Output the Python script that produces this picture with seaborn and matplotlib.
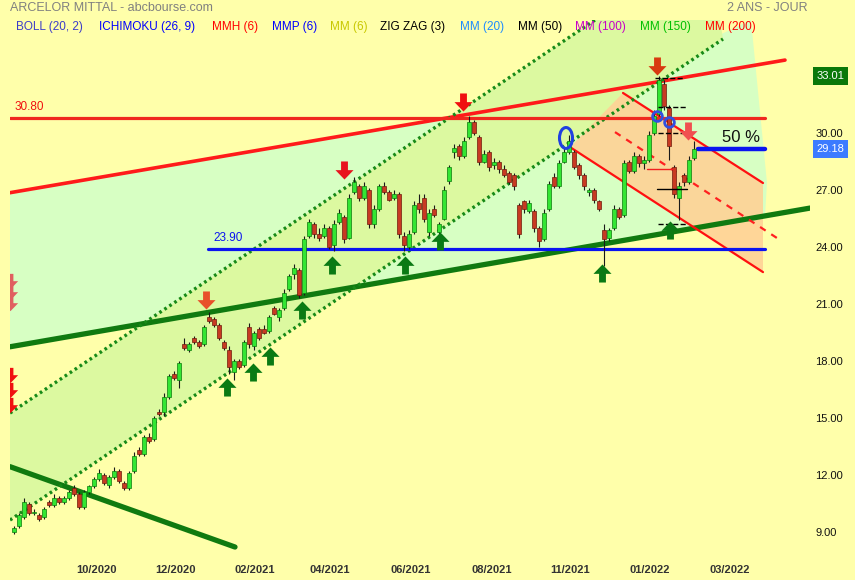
import matplotlib
matplotlib.use("Agg")
import numpy as np
import matplotlib.pyplot as plt
import matplotlib.transforms as mtransforms
from matplotlib.path import Path
from matplotlib.patches import Polygon, Ellipse
import seaborn as sns

# daily candles (one every ~2 sessions)
opens = [9.0, 9.3, 9.8, 10.5, 10.0, 9.9, 9.8, 10.6, 10.4, 10.8, 10.6, 10.8, 11.3, 11.0, 10.3, 11.1,
         11.4, 11.8, 12.0, 11.5, 11.9, 12.2, 11.6, 11.3, 12.2, 13.3, 13.1, 14.0, 13.9, 15.3, 15.3, 16.1,
         17.3, 17.0, 18.9, 18.6, 19.2, 19.0, 18.9, 20.3, 20.2, 19.9, 19.0, 18.6, 17.4, 18.0, 17.8, 19.8,
         18.8, 19.7, 19.7, 19.6, 20.8, 20.3, 20.8, 21.8, 22.6, 22.8, 21.6, 24.6, 25.2, 24.7, 24.6, 25.0,
         24.1, 25.3, 25.6, 24.5, 26.9, 27.2, 26.6, 27.0, 25.2, 26.0, 27.2, 26.9, 26.6, 26.8, 24.6, 24.0,
         24.8, 26.3, 26.6, 24.8, 26.0, 24.8, 25.5, 27.5, 29.0, 29.3, 28.8, 29.8, 30.6, 29.8, 28.5, 29.0,
         28.3, 28.5, 28.1, 27.9, 27.8, 26.2, 26.4, 25.9, 25.9, 25.0, 24.4, 26.0, 27.7, 27.2, 28.5, 29.0,
         29.0, 28.3, 27.8, 26.9, 27.0, 26.4, 24.9, 24.5, 25.0, 26.0, 25.7, 28.5, 28.0, 28.8, 28.4, 28.6,
         30.0, 31.0, 32.6, 31.3, 28.2, 26.6, 27.8, 27.4, 28.7]
highs = [9.3, 10.0, 10.8, 10.6, 10.2, 10.0, 10.3, 10.7, 11.0, 10.9, 10.9, 11.2, 11.5, 11.1, 11.2, 11.5,
         11.9, 12.3, 12.1, 12.0, 12.4, 12.3, 11.7, 12.2, 13.2, 13.5, 14.1, 14.2, 15.1, 15.5, 16.3, 17.3,
         17.5, 18.0, 19.2, 19.0, 19.3, 19.1, 19.9, 20.6, 20.3, 20.0, 19.1, 18.8, 18.1, 18.1, 19.1, 20.0,
         19.6, 19.8, 19.9, 20.4, 20.9, 20.8, 21.8, 22.6, 23.1, 22.9, 24.6, 25.5, 25.3, 25.0, 25.2, 25.1,
         25.4, 26.0, 25.7, 26.8, 27.7, 27.3, 27.4, 27.1, 26.2, 27.3, 27.4, 27.0, 27.0, 26.9, 24.8, 24.9,
         26.4, 26.8, 26.8, 26.0, 26.2, 25.3, 27.2, 28.3, 29.4, 29.4, 29.8, 30.9, 30.7, 29.9, 29.1, 29.1,
         28.7, 28.6, 28.3, 28.0, 27.9, 26.3, 26.5, 26.5, 26.0, 25.1, 26.0, 27.5, 27.9, 28.6, 29.2, 29.9,
         29.1, 28.4, 27.9, 27.1, 27.1, 26.5, 25.2, 25.0, 26.2, 26.1, 28.6, 28.6, 29.0, 28.9, 28.8, 30.1,
         31.2, 33.01, 32.8, 31.5, 28.3, 27.4, 27.9, 28.8, 29.6]
lows = [8.9, 9.2, 9.7, 9.9, 9.9, 9.6, 9.7, 10.3, 10.3, 10.5, 10.5, 10.7, 10.9, 10.2, 10.2, 11.0,
        11.3, 11.7, 11.5, 11.3, 11.8, 11.6, 11.2, 11.2, 12.1, 13.0, 13.0, 13.7, 13.8, 15.1, 15.1, 16.0,
        17.0, 16.6, 18.6, 18.5, 18.9, 18.7, 18.8, 20.0, 19.8, 19.1, 18.6, 17.3, 17.0, 17.6, 17.7, 18.7,
        18.6, 19.1, 19.4, 19.5, 20.4, 20.1, 20.7, 21.7, 22.3, 21.3, 21.5, 24.5, 24.5, 24.3, 24.5, 23.9,
        23.8, 25.2, 24.2, 24.4, 26.8, 26.4, 26.5, 25.0, 25.0, 25.9, 26.8, 26.4, 26.5, 24.5, 23.8, 23.9,
        24.7, 25.8, 25.3, 24.6, 25.6, 24.6, 25.4, 27.3, 28.7, 28.6, 28.7, 29.7, 29.9, 28.3, 28.4, 28.0,
        28.1, 27.9, 27.7, 27.3, 27.0, 24.5, 25.8, 25.8, 24.8, 24.0, 24.3, 25.9, 27.1, 27.1, 28.4, 28.9,
        28.1, 27.6, 27.0, 26.7, 26.3, 25.9, 23.0, 24.3, 24.9, 25.5, 25.6, 27.9, 27.9, 28.2, 28.1, 28.5,
        29.9, 30.9, 31.2, 28.6, 26.6, 25.4, 27.2, 27.3, 28.6]
closes = [9.2, 9.9, 10.6, 10.0, 10.05, 9.7, 10.2, 10.4, 10.8, 10.6, 10.8, 11.1, 11.0, 10.3, 11.1, 11.4,
          11.8, 12.1, 11.6, 11.9, 12.2, 11.7, 11.3, 12.1, 13.0, 13.1, 14.0, 13.8, 15.0, 15.2, 16.1, 17.2,
          17.1, 17.9, 18.7, 18.9, 19.0, 18.8, 19.8, 20.1, 19.9, 19.2, 18.7, 17.7, 18.0, 17.7, 19.0, 18.9,
          19.5, 19.2, 19.5, 20.3, 20.5, 20.7, 21.6, 22.5, 22.9, 21.5, 24.4, 25.3, 24.7, 24.5, 25.0, 24.0,
          25.2, 25.8, 24.4, 26.6, 27.4, 26.6, 27.2, 25.2, 26.0, 27.2, 26.9, 26.5, 26.8, 24.7, 24.1, 24.7,
          26.2, 26.0, 25.5, 25.8, 25.7, 25.2, 27.0, 28.2, 29.2, 28.8, 29.6, 30.6, 30.0, 28.5, 28.9, 28.2,
          28.5, 28.1, 27.8, 27.4, 27.2, 24.7, 26.0, 26.3, 25.0, 24.3, 25.8, 27.3, 27.2, 28.4, 29.0, 29.6,
          28.2, 27.8, 27.2, 27.0, 26.5, 26.0, 24.4, 24.9, 26.0, 25.6, 28.4, 28.0, 28.8, 28.4, 28.6, 29.9,
          30.9, 32.8, 31.4, 29.3, 26.8, 27.2, 27.4, 28.6, 29.18]

date_labels = ["10/2020", "12/2020", "02/2021", "04/2021", "06/2021",
               "08/2021", "11/2021", "01/2022", "03/2022"]
date_pos = [16.4, 32.2, 48.2, 63.2, 79.4, 95.6, 111.2, 127.2, 143.2]
price_ticks = [9, 12, 15, 18, 21, 24, 27, 30]

last_price = 29.18
top_price = 33.01
resistance = 30.80
support = 23.90

# drawn trend lines (x0, y0, x1, y1)
red_trend = (-0.8, 26.86, 154.2, 33.84)
green_trend = (-0.8, 18.75, 159.2, 26.05)
green_down = (-0.8, 12.44, 44.2, 8.21)
dotted_up = (-0.8, 15.26, 116.2, 35.95)
dotted_low = (-0.8, 9.63, 141.8, 34.95)
chan_top = (121.8, 32.11, 149.8, 27.37)
chan_bot = (111.2, 29.26, 149.8, 22.68)
chan_mid = (120.2, 30.05, 153.2, 24.37)

mint_zone = [(-0.8, 26.86), (117.2, 32.18), (147.4, 35.95), (150.6, 27.37), (150.2, 25.64), (-0.8, 18.75)]
channel_zone = [(-0.8, 15.26), (116.2, 35.95), (141.2, 35.95), (141.8, 34.95), (-0.8, 9.63)]
orange_zone = [(111.2, 29.26), (121.8, 32.11), (149.8, 27.37), (149.8, 22.68)]

# signals
buy_x = [42.6, 47.8, 51.2, 57.6, 63.6, 78.2, 85.2, 117.6, 131.2]
buy_y = [16.63, 17.42, 18.26, 20.68, 23.05, 23.05, 24.32, 22.63, 24.89]
sell_x = [38.4, 66.0, 89.8, 128.6, 134.8]
sell_y = [21.21, 28.05, 31.63, 33.53, 30.11]
sell_colors = ["#E8502A", "#E8141E", "#F01010", "#D83A10", "#F05050"]
edge_sell_y = [22.21, 21.63, 21.05, 17.26, 16.47, 15.68]
edge_sell_colors = ["#E06060", "#E06060", "#E06060", "#F01010", "#F01010", "#F01010"]

# zig zag levels near the top
zz_x0 = [128.2, 128.8, 128.8, 126.6, 128.6, 128.8]
zz_x1 = [133.8, 134.6, 135.6, 131.8, 134.6, 134.6]
zz_y = [32.89, 31.37, 30.0, 28.11, 27.05, 25.21]
zz_color = ["k", "k", "k", "#F02020", "k", "k"]
zz_style = ["--", "--", "--", "-", "-", "--"]

bg = "#FFFFAA"
sns.set_style("white")
plt.rcParams["font.family"] = ["Liberation Sans", "DejaVu Sans"]

fig = plt.figure(figsize=(8.55, 5.80), dpi=100, facecolor=bg)
ax = fig.add_axes([10 / 855, 25 / 580, 800 / 855, 535 / 580], facecolor=bg)
ax.set_xlim(-0.8, 159.2)
ax.set_ylim(7.79, 35.95)
for s in ax.spines.values():
    s.set_visible(False)

# shaded zones
ax.add_patch(Polygon(mint_zone, closed=True, fc="#D7FFC3", ec="none", zorder=1))
ax.add_patch(Polygon(channel_zone, closed=True, fc="#DCF9A0", ec="none", zorder=2))
ax.add_patch(Polygon(orange_zone, closed=True, fc="#FFD296", ec="none", alpha=0.9, zorder=3))

# lines
def seg(t, **kw):
    sns.lineplot(x=[t[0], t[2]], y=[t[1], t[3]], ax=ax, estimator=None, legend=False, **kw)

seg(red_trend, color="#FF1A1A", lw=2.6, zorder=4)
seg(green_trend, color="#107A10", lw=3.8, zorder=4)
seg(green_down, color="#107A10", lw=3.8, zorder=4)
seg(chan_top, color="#FF1010", lw=1.6, zorder=4)
seg(chan_bot, color="#FF1010", lw=1.6, zorder=4)
ax.plot([chan_mid[0], chan_mid[2]], [chan_mid[1], chan_mid[3]], color="#FF2020", lw=1.6,
        ls=(0, (3, 3)), zorder=4)
for t in (dotted_up, dotted_low):
    ax.plot([t[0], t[2]], [t[1], t[3]], color="#178A17", lw=2.4, ls=(0, (0.8, 1.0)), zorder=4)

ax.plot([-0.8, 150.2], [resistance, resistance], color="#F0281E", lw=2.3, zorder=4)
ax.plot([38.8, 150.2], [support, support], color="#0A14F0", lw=2.3, zorder=4)
ax.plot([136.8, 150.2], [last_price, last_price], color="#0A14F0", lw=3.2, zorder=4)
ax.text(0.2, resistance + 0.25, f"{resistance:.2f}", color="#F01010", fontsize=8.5, va="bottom", zorder=8)
ax.text(39.8, support + 0.25, f"{support:.2f}", color="#0A14F0", fontsize=8.5, va="bottom", zorder=8)
ax.text(141.6, last_price + 0.2, "50 %", color="#111111", fontsize=12, va="bottom", zorder=8)

for x0, x1, y, c, st in zip(zz_x0, zz_x1, zz_y, zz_color, zz_style):
    ax.plot([x0, x1], [y, y], color=c, lw=1.0, ls=st, zorder=7)

# candles
idx = np.arange(len(closes))
o = np.array(opens)
c = np.array(closes)
up = c >= o
ax.vlines(idx, lows, highs, color="#1A1A1A", lw=0.8, zorder=5)
body_h = np.maximum(np.abs(c - o), 0.06)
ax.bar(idx, body_h, bottom=np.minimum(o, c), width=0.7,
       color=np.where(up, "#33E633", "#C83A22"),
       edgecolor=np.where(up, "#0B7A0B", "#6E1A0C"), lw=0.5, zorder=6)

# arrows
verts = [(-0.19, 0.5), (0.19, 0.5), (0.19, 0.02), (0.5, 0.02), (0.0, -0.5),
         (-0.5, 0.02), (-0.19, 0.02), (-0.19, 0.5)]
down_arrow = Path(verts, closed=True)
up_arrow = Path([(vx, -vy) for vx, vy in verts], closed=True)
ax.plot(buy_x, buy_y, ls="none", marker=up_arrow, ms=13, color="#0A7A14", mew=0, zorder=8)
for x, y, col in zip(sell_x, sell_y, sell_colors):
    ax.plot([x], [y], ls="none", marker=down_arrow, ms=13, color=col, mew=0, zorder=8)
for y, col in zip(edge_sell_y, edge_sell_colors):
    ax.plot([-0.8], [y], ls="none", marker=down_arrow, ms=11, color=col, mew=0, zorder=8)

ax.add_patch(Ellipse((110.4, 29.74), 2.6, 1.1, fill=False, ec="#2040E0", lw=2.2, zorder=9))
ax.plot([128.6, 131.0], [30.89, 30.58], ls="none", marker="o", ms=7, mfc="none",
        mec="#3050E0", mew=2, zorder=9)

# axes
ax.yaxis.tick_right()
ax.set_yticks(price_ticks)
ax.set_yticklabels([f"{v:.2f}" for v in price_ticks])
ax.tick_params(axis="y", length=0, pad=4, labelsize=8, labelcolor="#111111")
ax.set_xticks(date_pos)
ax.set_xticklabels(date_labels)
ax.tick_params(axis="x", length=0, pad=7, labelsize=8, labelcolor="#333333")
for lbl in ax.get_xticklabels():
    lbl.set_fontweight("bold")

trans = mtransforms.blended_transform_factory(ax.transAxes, ax.transData)
ax.text(1.008, top_price, f"{top_price:.2f}", transform=trans, ha="left", va="center", color="white",
        fontsize=8, bbox=dict(boxstyle="square,pad=0.35", fc="#0A780A", ec="none"), clip_on=False)
ax.text(1.008, last_price, f"{last_price:.2f}", transform=trans, ha="left", va="center", color="white",
        fontsize=8, bbox=dict(boxstyle="square,pad=0.35", fc="#3C7BFF", ec="none"), clip_on=False)

# header
fig.text(10 / 855, 1 - 8 / 580, "ARCELOR MITTAL - abcbourse.com", color="#808080", fontsize=9, va="center")
fig.text(808 / 855, 1 - 8 / 580, "2 ANS - JOUR", color="#808080", fontsize=9, va="center", ha="right")
legend_items = ["BOLL (20, 2)", "ICHIMOKU (26, 9)", "MMH (6)", "MMP (6)", "MM (6)", "ZIG ZAG (3)",
                "MM (20)", "MM (50)", "MM (100)", "MM (150)", "MM (200)"]
legend_colors = ["#3C3CC8", "#0000FF", "#FF0000", "#0000FF", "#C8C800", "#000000",
                 "#1E8CFF", "#000000", "#C800C8", "#00C000", "#FF0000"]
legend_x = [16, 99, 212, 272, 330, 380, 460, 518, 575, 640, 705]
for txt, col, lx in zip(legend_items, legend_colors, legend_x):
    fig.text(lx / 855, 1 - 27 / 580, txt, color=col, fontsize=8.5, va="center", zorder=10)

fig.savefig("out.png", dpi=100, facecolor=bg)
